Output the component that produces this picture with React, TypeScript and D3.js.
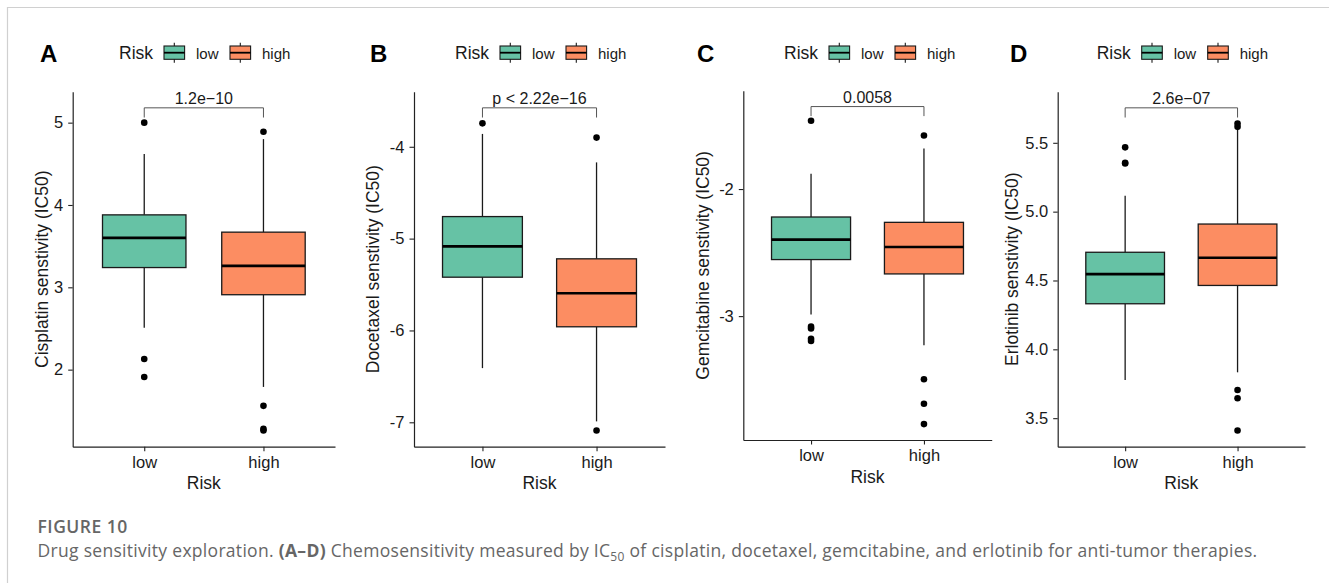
import { useRef, useEffect } from 'react'
import * as d3 from 'd3'

const riskGroups = ['low', 'high']
const panelLetters = ['A', 'B', 'C', 'D']
const drugNames = ['Cisplatin', 'Docetaxel', 'Gemcitabine', 'Erlotinib']
const pValueLabels = ['1.2e\u221210', 'p < 2.22e\u221216', '0.0058', '2.6e\u221207']
const bracketValues = [5.18, -3.576, -1.351, 5.754]

// box stats: [lower whisker, Q1, median, Q3, upper whisker]
const cisplatinLow = [2.51, 3.24, 3.6, 3.88, 4.62]
const cisplatinHigh = [1.79, 2.91, 3.26, 3.67, 4.8]
const docetaxelLow = [-6.41, -5.42, -5.085, -4.76, -3.86]
const docetaxelHigh = [-6.99, -5.96, -5.595, -5.22, -4.17]
const gemcitabineLow = [-2.987, -2.555, -2.398, -2.22, -1.88]
const gemcitabineHigh = [-3.23, -2.668, -2.456, -2.262, -1.68]
const erlotinibLow = [3.777, 4.331, 4.546, 4.705, 5.116]
const erlotinibHigh = [3.833, 4.464, 4.665, 4.91, 5.597]

// outliers
const cisplatinLowOut = [5.0, 2.13, 1.91]
const cisplatinHighOut = [4.89, 1.56, 1.28, 1.26]
const docetaxelLowOut = [-3.745]
const docetaxelHighOut = [-3.9, -7.09]
const gemcitabineLowOut = [-1.463, -3.083, -3.097, -3.178, -3.196]
const gemcitabineHighOut = [-1.579, -3.497, -3.69, -3.85]
const erlotinibLowOut = [5.467, 5.355, 5.35]
const erlotinibHighOut = [5.64, 5.616, 3.705, 3.645, 3.41]

const cisplatinTicks = [2, 3, 4, 5]
const docetaxelTicks = [-7, -6, -5, -4]
const gemcitabineTicks = [-3, -2]
const erlotinibTicks = [3.5, 4.0, 4.5, 5.0, 5.5]

const boxStats = [
  [cisplatinLow, cisplatinHigh],
  [docetaxelLow, docetaxelHigh],
  [gemcitabineLow, gemcitabineHigh],
  [erlotinibLow, erlotinibHigh],
]
const outliers = [
  [cisplatinLowOut, cisplatinHighOut],
  [docetaxelLowOut, docetaxelHighOut],
  [gemcitabineLowOut, gemcitabineHighOut],
  [erlotinibLowOut, erlotinibHighOut],
]
const yTicks = [cisplatinTicks, docetaxelTicks, gemcitabineTicks, erlotinibTicks]

const colors = ['#66C2A5', '#FC8D62']
const font = '"Liberation Sans", Arial, sans-serif'

// panel boxes on the page
const layout = [
  { left: 72.7, right: 335, top: 91.7, bottom: 446.7, letterX: 40, legendX: 119, titleX: 42 },
  { left: 414, right: 665, top: 91.7, bottom: 446.7, letterX: 370, legendX: 455, titleX: 372.7 },
  { left: 743.3, right: 991.7, top: 90.7, bottom: 440, letterX: 697, legendX: 784, titleX: 702.7 },
  { left: 1057.7, right: 1305, top: 91.7, bottom: 446.7, letterX: 1010, legendX: 1096.7, titleX: 1011.7 },
]

function App() {
  const ref = useRef<SVGSVGElement>(null)

  useEffect(() => {
    const svg = d3.select(ref.current)
    svg.selectAll('*').remove()

    // page frame
    svg.append('path')
      .attr('d', 'M7.5,583 L7.5,7.5 L1329,7.5')
      .attr('fill', 'none')
      .attr('stroke', '#d0d0d0')
      .attr('stroke-width', 1.2)

    layout.forEach((p, i) => {
      const stats = boxStats[i]
      const outs = outliers[i]
      const allVals = [...stats.flat(), ...outs.flat(), bracketValues[i]]
      const lo = d3.min(allVals) as number
      const hi = d3.max(allVals) as number
      const pad = (hi - lo) * 0.05
      const y = d3.scaleLinear().domain([lo - pad, hi + pad]).range([p.bottom, p.top])
      const x = d3.scalePoint().domain(riskGroups).range([p.left, p.right]).padding(0.6)
      const bw = x.step() * 0.7
      const g = svg.append('g')

      // y axis
      const yAxis = g.append('g')
        .attr('transform', `translate(${p.left},0)`)
        .call(d3.axisLeft(y).tickValues(yTicks[i]).tickSize(4.5).tickSizeOuter(0).tickPadding(5)
          .tickFormat(i === 3 ? d3.format('.1f') : (d: any) => String(d)))
      // x axis
      const xAxis = g.append('g')
        .attr('transform', `translate(0,${p.bottom})`)
        .call(d3.axisBottom(x).tickSize(4.5).tickSizeOuter(0).tickPadding(5))
      ;[yAxis, xAxis].forEach(a => {
        a.select('.domain').attr('stroke', '#222').attr('stroke-width', 1.2)
        a.selectAll('.tick line').attr('stroke', '#222').attr('stroke-width', 1.1)
        a.selectAll('.tick text').attr('fill', '#1a1a1a').style('font-family', font).style('font-size', '16.5px')
      })

      // whiskers
      riskGroups.forEach((grp, j) => {
        const s = stats[j]
        const cx = x(grp) as number
        g.append('line').attr('x1', cx).attr('x2', cx).attr('y1', y(s[3])).attr('y2', y(s[4]))
          .attr('stroke', '#1a1a1a').attr('stroke-width', 1.3)
        g.append('line').attr('x1', cx).attr('x2', cx).attr('y1', y(s[1])).attr('y2', y(s[0]))
          .attr('stroke', '#1a1a1a').attr('stroke-width', 1.3)
        g.append('rect')
          .attr('x', cx - bw / 2).attr('width', bw)
          .attr('y', y(s[3])).attr('height', y(s[1]) - y(s[3]))
          .attr('fill', colors[j]).attr('stroke', '#1a1a1a').attr('stroke-width', 1.3)
        g.append('line').attr('x1', cx - bw / 2).attr('x2', cx + bw / 2).attr('y1', y(s[2])).attr('y2', y(s[2]))
          .attr('stroke', '#000').attr('stroke-width', 2.6)
        g.selectAll(null).data(outs[j]).enter().append('circle')
          .attr('cx', cx).attr('cy', d => y(d)).attr('r', 3.3).attr('fill', '#000')
      })

      // significance bracket
      const bv = bracketValues[i]
      const tip = (hi - lo) * 0.03
      const xl = x('low') as number
      const xh = x('high') as number
      g.append('path')
        .attr('d', `M${xl},${y(bv - tip)} L${xl},${y(bv)} L${xh},${y(bv)} L${xh},${y(bv - tip)}`)
        .attr('fill', 'none').attr('stroke', '#555').attr('stroke-width', 1)
      g.append('text')
        .attr('x', (xl + xh) / 2).attr('y', y(bv) - 3.5)
        .attr('text-anchor', 'middle')
        .style('font-family', font).style('font-size', '16px').attr('fill', '#1a1a1a')
        .text(pValueLabels[i])

      // axis titles
      g.append('text')
        .attr('transform', `translate(${p.titleX},${(p.top + p.bottom) / 2}) rotate(-90)`)
        .attr('text-anchor', 'middle').attr('dy', '0.35em')
        .style('font-family', font).style('font-size', '17.5px').attr('fill', '#1a1a1a')
        .text(`${drugNames[i]} senstivity (IC50)`)
      g.append('text')
        .attr('x', (p.left + p.right) / 2).attr('y', p.bottom + 42.6)
        .attr('text-anchor', 'middle')
        .style('font-family', font).style('font-size', '17.5px').attr('fill', '#1a1a1a')
        .text('Risk')

      // panel letter
      g.append('text')
        .attr('x', p.letterX).attr('y', 62.3)
        .style('font-family', font).style('font-size', '24px').style('font-weight', 'bold')
        .text(panelLetters[i])

      // legend
      const lg = g.append('g').attr('transform', `translate(${p.legendX},0)`)
      lg.append('text').attr('x', 0).attr('y', 59.3)
        .style('font-family', font).style('font-size', '17.5px').attr('fill', '#1a1a1a')
        .text('Risk')
      riskGroups.forEach((grp, j) => {
        const kx = 45 + j * 66
        const kc = kx + 10.3
        lg.append('line').attr('x1', kc).attr('x2', kc).attr('y1', 42.7).attr('y2', 62.7)
          .attr('stroke', '#1a1a1a').attr('stroke-width', 1.1)
        lg.append('rect').attr('x', kx).attr('y', 46).attr('width', 20.6).attr('height', 13.3)
          .attr('fill', colors[j]).attr('stroke', '#1a1a1a').attr('stroke-width', 1.1)
        lg.append('line').attr('x1', kx).attr('x2', kx + 20.6).attr('y1', 52.7).attr('y2', 52.7)
          .attr('stroke', '#000').attr('stroke-width', 1.8)
        lg.append('text').attr('x', kx + 32).attr('y', 59.3)
          .style('font-family', font).style('font-size', '15px').attr('fill', '#1a1a1a')
          .text(grp)
      })
    })

    // caption
    svg.append('text')
      .attr('x', 37.5).attr('y', 533.3)
      .style('font-family', '"Open Sans", sans-serif').style('font-size', '17.5px')
      .style('font-weight', 600).style('letter-spacing', '0.5px').attr('fill', '#666')
      .text('FIGURE 10')
    const cap = svg.append('text')
      .attr('x', 37.5).attr('y', 556.7)
      .style('font-family', '"Open Sans", sans-serif').style('font-size', '17.5px')
      .style('letter-spacing', '0.3px')
      .attr('fill', '#666')
    cap.append('tspan').text('Drug sensitivity exploration. ')
    cap.append('tspan').style('font-weight', 700).text('(A\u2013D)')
    cap.append('tspan').text(' Chemosensitivity measured by IC')
    cap.append('tspan').attr('dy', 4).style('font-size', '12px').text('50')
    cap.append('tspan').attr('dy', -4).text(' of cisplatin, docetaxel, gemcitabine, and erlotinib for anti-tumor therapies.')
  }, [])

  return (
    <svg ref={ref} width={1329} height={583}
      style={{ position: 'absolute', left: 0, top: 0, background: '#fff' }}>
    </svg>
  )
}

export default App
